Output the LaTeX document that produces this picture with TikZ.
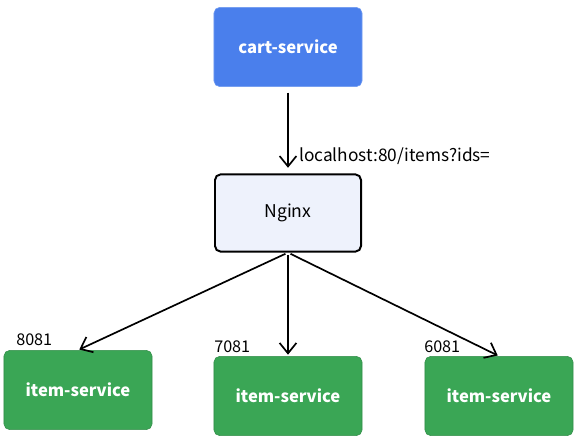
\documentclass[tikz,border=0pt]{standalone}
\usepackage{fontspec}
\setmainfont{Noto Sans CJK SC}
\usetikzlibrary{arrows.meta,positioning}
\definecolor{cartblue}{HTML}{4A7FEC}
\definecolor{itemgreen}{HTML}{3AA655}
\definecolor{nginxfill}{HTML}{EEF2FC}
\begin{document}
\begin{tikzpicture}[x=0.025cm,y=-0.025cm,
  every node/.style={font=\fontsize{12.3}{14}\selectfont},
  svc/.style={rounded corners=4pt,align=center,minimum width=3.7cm,minimum height=1.98cm,
    text=white,font=\fontsize{11.8}{13}\selectfont\bfseries},
  cartbox/.style={svc,fill=cartblue,draw=cartblue!80!white},
  itembox/.style={svc,fill=itemgreen,draw=itemgreen!85!black},
  proxy/.style={draw=black,line width=1.4pt,fill=nginxfill,rounded corners=4pt,
    minimum width=3.65cm,minimum height=1.93cm,font=\fontsize{12.5}{14}\selectfont},
  port/.style={anchor=south west,inner sep=0pt,font=\fontsize{11.5}{13}\selectfont},
  ar/.style={-{Straight Barb[length=2.6mm,width=4.2mm]},line width=1.2pt}]
\useasboundingbox (0,0) rectangle (577,444);
\node[cartbox] (cart) at (288,47) {cart-service};
\node[proxy] (nginx) at (288,213) {Nginx};
\node[itembox] (item1) at (78,390) {item-service};
\node[itembox] (item2) at (288,396) {item-service};
\node[itembox] (item3) at (499,396) {item-service};
\node[port] (p1) at (16,346) {8081};
\node[port] (p2) at (214,353) {7081};
\node[port] (p3) at (424,353) {6081};
\draw[ar,shorten <=4pt,shorten >=4pt] (cart) -- (nginx) node[pos=0.8,right=4pt] (url) {localhost:80/items?ids=};
\foreach \x in {item1,item2,item3} \draw[ar,shorten <=2pt,shorten >=1pt] (nginx.south) -- (\x.north);
\end{tikzpicture}
\end{document}
